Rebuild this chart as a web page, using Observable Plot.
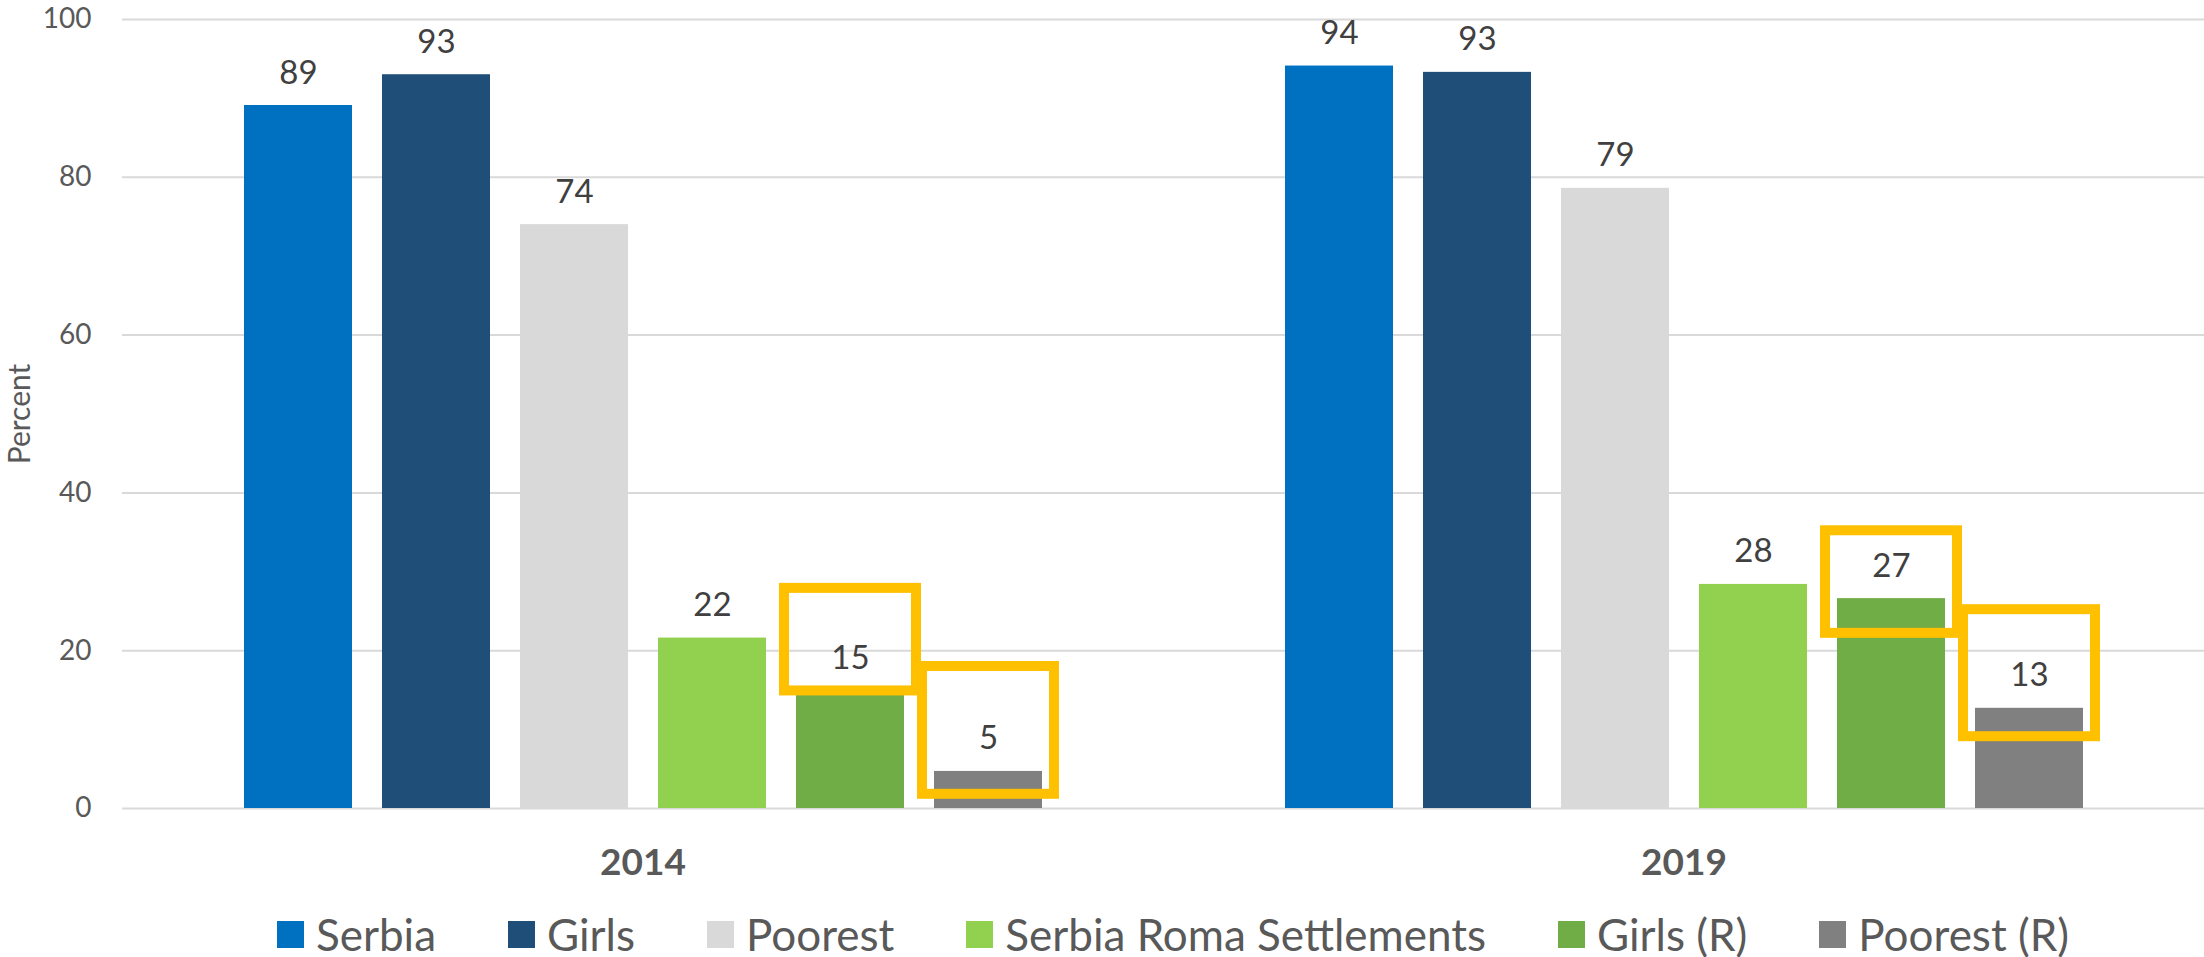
<!DOCTYPE html>
<html><head><meta charset="utf-8">
<script src="https://cdn.jsdelivr.net/npm/d3@7"></script>
<script src="https://cdn.jsdelivr.net/npm/@observablehq/plot@0.6"></script>
<style>
body{margin:0;background:#fff;font-family:Lato,sans-serif;width:2204px;overflow:hidden;}
#legend{display:flex;justify-content:center;align-items:center;gap:72px;padding-left:142px;height:68px;font-size:44px;color:#595959;}
.item{display:flex;align-items:center;gap:12px;white-space:nowrap;}
.sw{width:27px;height:27px;display:inline-block;}
</style></head><body>
<div id="chart"></div><div id="legend"></div>
<script>
const years = ["2014", "2019"];
const series = ["Serbia", "Girls", "Poorest", "Serbia Roma Settlements", "Girls (R)", "Poorest (R)"];
const colors = ["#0070C0", "#1F4E79", "#D9D9D9", "#92D050", "#70AD47", "#808080"];
const values2014 = [89.1, 93.0, 74.0, 21.6, 14.9, 4.7];
const values2019 = [94.1, 93.3, 78.6, 28.4, 26.6, 12.7];
const yTicks = [0, 20, 40, 60, 80, 100];
// highlight boxes (annotation), extents in percent units
const highlightYear = ["2014", "2014", "2019", "2019"];
const highlightSeries = ["Girls (R)", "Poorest (R)", "Girls (R)", "Poorest (R)"];
const highlightLow = [14.9, 1.8, 22.2, 9.1];
const highlightHigh = [27.9, 18.0, 35.2, 25.2];

const data = [];
series.forEach((s, i) => {
  data.push({year: years[0], series: s, value: values2014[i]});
  data.push({year: years[1], series: s, value: values2019[i]});
});
const boxes = highlightYear.map((y, i) => ({year: y, series: highlightSeries[i], low: highlightLow[i], high: highlightHigh[i]}));

const chart = Plot.plot({
  width: 2204, height: 900,
  marginLeft: 121, marginRight: 0, marginTop: 19, marginBottom: 92,
  style: {fontFamily: "Lato, sans-serif", fontSize: "28px", color: "#595959", background: "#fff"},
  fx: {domain: years, padding: 0, label: null},
  x: {domain: series, paddingInner: 0.22, paddingOuter: 0.865, axis: null},
  y: {domain: [0, 100]},
  color: {domain: series, range: colors},
  marks: [
    Plot.gridY(yTicks, {stroke: "#D9D9D9", strokeOpacity: 1, strokeWidth: 2}),
    Plot.axisY(yTicks, {tickSize: 0, tickPadding: 31, fontSize: 28, fill: "#595959", label: "Percent", labelAnchor: "center", labelOffset: 114, labelArrow: "none"}),
    Plot.axisFx({anchor: "bottom", tickSize: 0, tickPadding: 40, fontSize: 37, fontWeight: "bold", fill: "#595959", label: null}),
    Plot.barY(data, {fx: "year", x: "series", y: "value", fill: "series"}),
    Plot.text(data, {fx: "year", x: "series", y: "value", text: d => Math.round(d.value), dy: -22, lineAnchor: "bottom", fontSize: 33, fill: "#404040"}),
    Plot.barY(boxes, {fx: "year", x: "series", y1: "low", y2: "high", fill: "none", stroke: "#FFC000", strokeWidth: 10, insetLeft: -12, insetRight: -12})
  ]
});
d3.select(chart).selectAll("text").filter(function () { return this.textContent === "Percent"; })
  .attr("font-size", 30).style("font-size", "30px");
document.getElementById("chart").appendChild(chart);

const legend = document.getElementById("legend");
series.forEach((s, i) => {
  const it = document.createElement("div");
  it.className = "item";
  const sw = document.createElement("span");
  sw.className = "sw";
  sw.style.background = colors[i];
  const t = document.createElement("span");
  t.textContent = s;
  it.appendChild(sw); it.appendChild(t);
  legend.appendChild(it);
});
</script>
</body></html>
